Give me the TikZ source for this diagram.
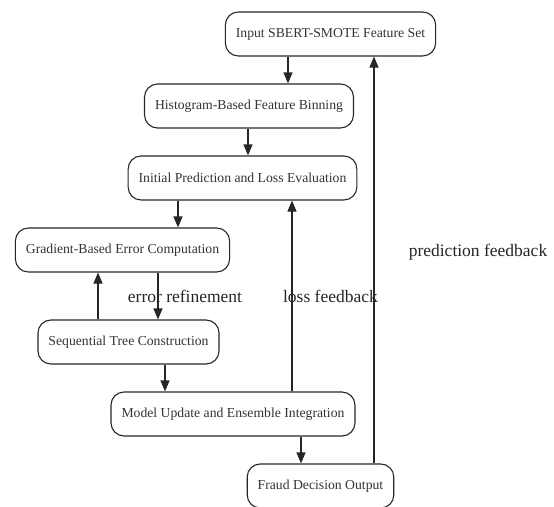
\documentclass[tikz,border=0pt]{standalone}
\usepackage{fontspec}
\setmainfont{Liberation Serif}
\usepackage{tikz}
\usetikzlibrary{arrows.meta,positioning}

\begin{document}
\begin{tikzpicture}[
  x=1pt, y=-1pt,
  >={Triangle[length=11pt,width=9pt]},
  stage/.style={rectangle, draw=black!85, rounded corners=13pt, line width=1.1pt,
    minimum height=44pt, inner xsep=10.5pt, align=center, text=black!80,
    font=\fontsize{13.7}{16}\selectfont},
  flow/.style={->, line width=1.1pt, color=black!85},
  fblabel/.style={font=\fontsize{17.5}{20}\selectfont, text=black!85, inner sep=0pt},
]
\useasboundingbox (0,0) rectangle (554,506);

% Stages
\node[stage] at (330.5, 34) (inp) {Input SBERT-SMOTE Feature Set};
\node[stage] at (249, 106) (hist) {Histogram-Based Feature Binning};
\node[stage] at (242.5, 178) (init) {Initial Prediction and Loss Evaluation};
\node[stage] at (122.5, 250) (grad) {Gradient-Based Error Computation};
\node[stage] at (128.5, 342) (seq) {Sequential Tree Construction};
\node[stage] at (233, 414) (model) {Model Update and Ensemble Integration};
\node[stage] at (320.5, 486) (fraud) {Fraud Decision Output};

% Main flow
\draw[flow] ([xshift=-42.5pt]inp.south) -- ([xshift=39pt]hist.north);
\draw[flow] ([xshift=-1pt]hist.south) -- ([xshift=5.5pt]init.north);
\draw[flow] ([xshift=-64.5pt]init.south) -- ([xshift=55.5pt]grad.north);
\draw[flow] ([xshift=35.5pt]grad.south) -- node[fblabel, xshift=27pt] {error refinement} ([xshift=29.5pt]seq.north);
\draw[flow] ([xshift=-30.5pt]seq.north) -- ([xshift=-24.5pt]grad.south);
\draw[flow] ([xshift=36.5pt]seq.south) -- ([xshift=-68pt]model.north);
\draw[flow] ([xshift=68pt]model.south) -- ([xshift=-19.5pt]fraud.north);

% Feedback
\draw[flow] ([xshift=59pt]model.north) -- node[fblabel, xshift=38.5pt] {loss feedback} ([xshift=49.5pt]init.south);
\draw[flow] ([xshift=53.5pt]fraud.north) -- node[fblabel, xshift=104pt, yshift=8pt] {prediction feedback} ([xshift=43.5pt]inp.south);

\end{tikzpicture}
\end{document}
